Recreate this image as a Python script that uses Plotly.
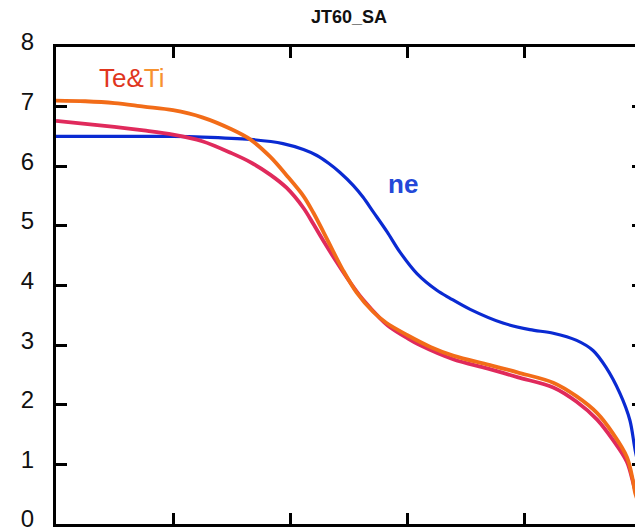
import plotly.graph_objects as go

# Data
ne_x = [0.0, 0.1, 0.2, 0.25, 0.332, 0.388, 0.423, 0.446, 0.466, 0.485, 0.508, 0.525, 0.542,
        0.566, 0.588, 0.617, 0.651, 0.673, 0.708, 0.764, 0.81, 0.85, 0.89, 0.918, 0.94,
        0.964, 0.981, 0.99, 1.0]
ne_y = [6.5, 6.5, 6.5, 6.49, 6.45, 6.38, 6.28, 6.18, 6.05, 5.9, 5.68, 5.48, 5.24,
        4.9, 4.56, 4.2, 3.92, 3.79, 3.6, 3.37, 3.26, 3.2, 3.08, 2.91, 2.63,
        2.19, 1.74, 1.24, 0.8]

te_x = [0.0, 0.05, 0.1, 0.15, 0.2, 0.25, 0.3, 0.332, 0.366, 0.394, 0.423, 0.44, 0.457,
        0.474, 0.491, 0.514, 0.542, 0.565, 0.6, 0.64, 0.68, 0.74, 0.79, 0.85, 0.89, 0.925,
        0.952, 0.976, 0.986, 0.99, 1.0]
te_y = [7.1, 7.09, 7.06, 7.0, 6.94, 6.82, 6.62, 6.45, 6.16, 5.85, 5.5, 5.22, 4.9,
        4.57, 4.25, 3.88, 3.56, 3.37, 3.17, 2.97, 2.82, 2.67, 2.54, 2.37, 2.14, 1.86,
        1.52, 1.12, 0.74, 0.52, 0.25]

ti_x = [0.0, 0.05, 0.1, 0.15, 0.2, 0.25, 0.3, 0.332, 0.366, 0.394, 0.423, 0.44, 0.457,
        0.48, 0.503, 0.525, 0.554, 0.571, 0.6, 0.622, 0.68, 0.737, 0.79, 0.85, 0.89, 0.925,
        0.952, 0.976, 0.99, 1.0]
ti_y = [6.76, 6.71, 6.66, 6.6, 6.53, 6.42, 6.22, 6.07, 5.86, 5.64, 5.3, 5.03, 4.75,
        4.39, 4.05, 3.76, 3.45, 3.3, 3.12, 3.0, 2.76, 2.61, 2.46, 2.29, 2.05, 1.75,
        1.41, 1.04, 0.57, 0.3]

y_ticks = [0, 1, 2, 3, 4, 5, 6, 7, 8]
x_ticks = [0.0, 0.2, 0.4, 0.6, 0.8, 1.0]

FONT = "Liberation Sans, Arial, sans-serif"
LINE = dict(shape="spline", smoothing=0.9)

fig = go.Figure()
fig.add_trace(go.Scatter(x=ne_x, y=ne_y, mode="lines", name="ne",
                         line=dict(color="#0a2ad2", width=3.2, **LINE)))
fig.add_trace(go.Scatter(x=ti_x, y=ti_y, mode="lines", name="Ti",
                         line=dict(color="#e02a5c", width=3.8, **LINE)))
fig.add_trace(go.Scatter(x=te_x, y=te_y, mode="lines", name="Te",
                         line=dict(color="#f26c18", width=3.8, **LINE)))
# invisible trace to activate right-side y ticks
fig.add_trace(go.Scatter(x=[0], y=[0], yaxis="y2", mode="markers",
                         marker=dict(opacity=0), showlegend=False, hoverinfo="skip"))

fig.update_layout(
    width=635, height=529,
    margin=dict(l=56, r=0, t=47, b=5, autoexpand=False),
    paper_bgcolor="white", plot_bgcolor="white",
    showlegend=False,
    font=dict(family=FONT, color="#111111"),
    title=dict(text="<b>JT60_SA</b>", x=349/635, xref="container", xanchor="center",
               y=1 - 17/529, yref="container", yanchor="middle", automargin=False,
               font=dict(family=FONT, size=18, color="#111111")),
    xaxis=dict(range=[0, 579/585], tickvals=x_ticks, showticklabels=False,
               ticks="inside", ticklen=11, tickwidth=3, tickcolor="black",
               showline=True, linewidth=3, linecolor="black", mirror="ticks",
               showgrid=False, zeroline=False, automargin=False),
    yaxis=dict(range=[0, 8], tickvals=y_ticks, ticktext=[str(v) for v in y_ticks],
               ticks="inside", ticklen=11, tickwidth=3, tickcolor="black",
               showline=True, linewidth=3, linecolor="black",
               showgrid=False, zeroline=False, automargin=False,
               tickfont=dict(family=FONT, size=24, color="#111111"),
               ticklabelstandoff=14, ticklabeloverflow="allow", ticklabelshift=-5),
    yaxis2=dict(range=[0, 8], tickvals=y_ticks, overlaying="y", side="right",
                showticklabels=False, ticks="inside", ticklen=3, tickwidth=3,
                tickcolor="black", showline=False, showgrid=False, zeroline=False,
                automargin=False),
    annotations=[
        dict(x=(97-56)/585, y=7.48, xref="x", yref="y", xanchor="left", yanchor="middle",
             showarrow=False,
             text="<span style='color:#e0361e'>Te&amp;</span><span style='color:#f7922f'>Ti</span>",
             font=dict(family=FONT, size=26)),
        dict(x=0.593, y=5.70, xref="x", yref="y", xanchor="center", yanchor="middle",
             showarrow=False, text="<b>ne</b>",
             font=dict(family=FONT, size=26, color="#2448d8")),
    ],
)

fig.write_html("out.html")
